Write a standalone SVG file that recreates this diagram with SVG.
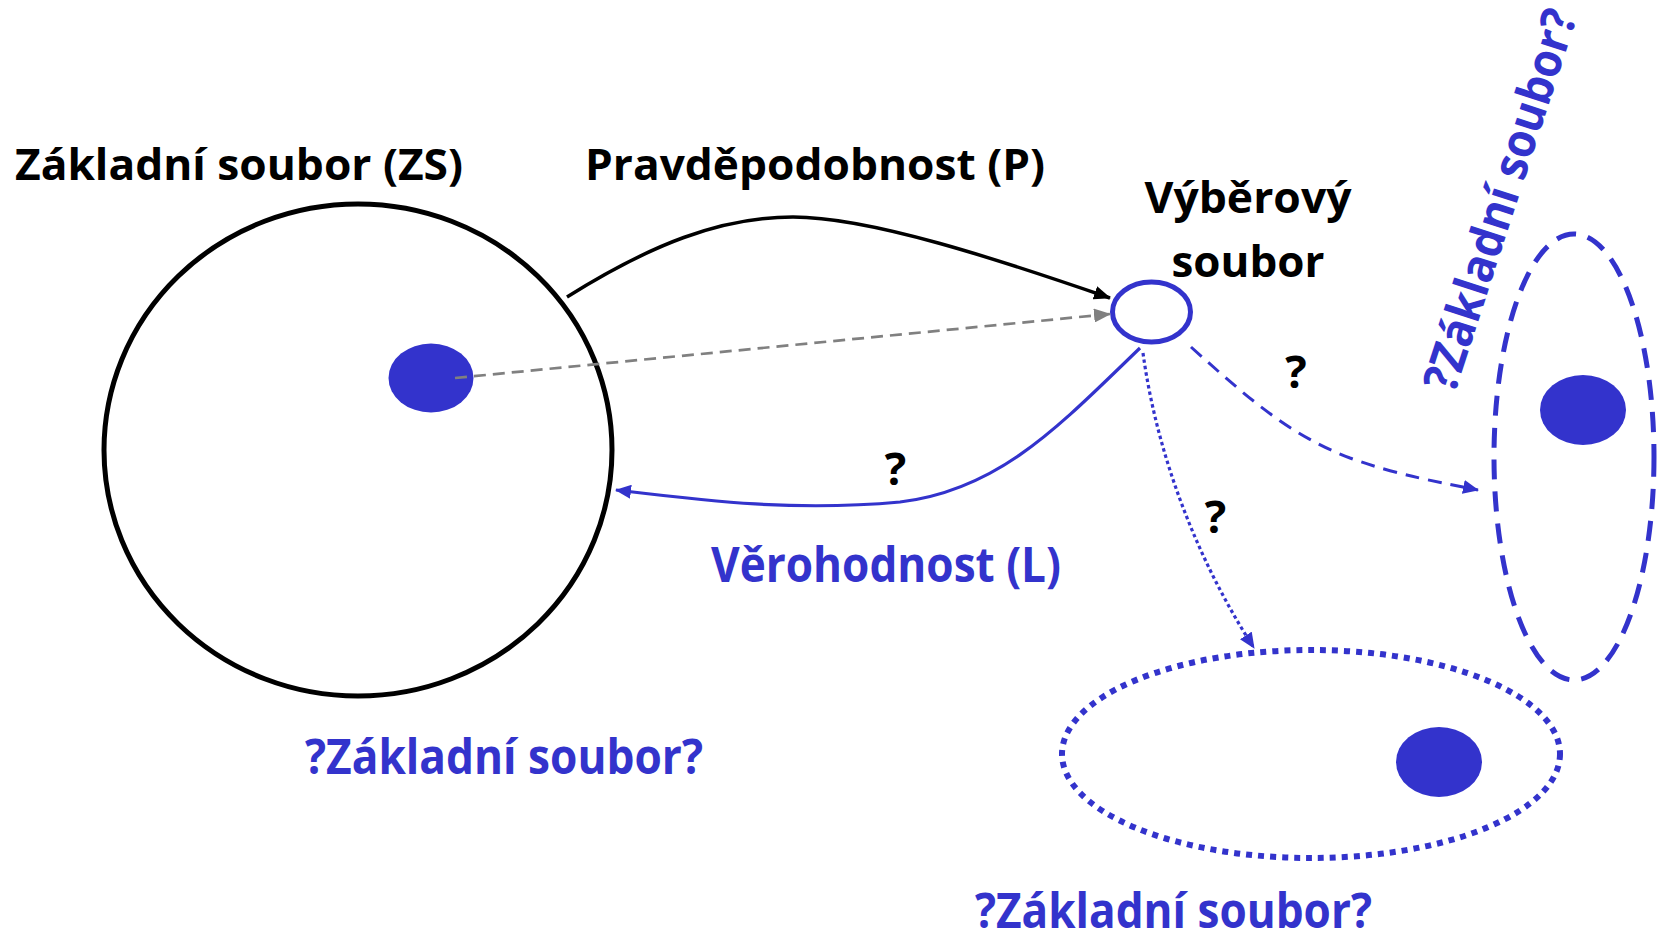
<svg xmlns="http://www.w3.org/2000/svg" width="1659" height="936" viewBox="0 0 1659 936">
<style>
.lbl{font-family:"Open Sans",Lato,"Liberation Sans",sans-serif;font-weight:700}
.blk{fill:#000;font-size:43px}
.blu{fill:#3333CC;font-size:48px}
.q{fill:#000;font-size:45px;text-anchor:middle}
.dot{fill:#3333CC}
</style>
<defs>
<marker id="ahBlack" markerUnits="userSpaceOnUse" markerWidth="17" markerHeight="14" refX="16" refY="7" orient="auto"><path d="M0,0 L17,7 L0,14 z" fill="#000"/></marker>
<marker id="ahGrey" markerUnits="userSpaceOnUse" markerWidth="17" markerHeight="14" refX="16" refY="7" orient="auto"><path d="M0,0 L17,7 L0,14 z" fill="#808080"/></marker>
<marker id="ahBlue" markerUnits="userSpaceOnUse" markerWidth="16" markerHeight="14" refX="15" refY="7" orient="auto"><path d="M0,0 L16,7 L0,14 z" fill="#3333CC"/></marker>
</defs>
<rect width="1659" height="936" fill="#fff"/>

<g id="zs">
<ellipse cx="358" cy="450" rx="254" ry="246" fill="none" stroke="#000" stroke-width="5"/>
<ellipse class="dot" cx="431" cy="378" rx="42.5" ry="34.5"/>
</g>

<g id="vs">
<ellipse cx="1151.5" cy="312" rx="39" ry="30" fill="none" stroke="#3333CC" stroke-width="5"/>
</g>

<g id="zs-dashed">
<ellipse cx="1574" cy="457" rx="80" ry="223" fill="none" stroke="#3333CC" stroke-width="5" stroke-dasharray="20 12"/>
<ellipse class="dot" cx="1583" cy="410" rx="43" ry="35"/>
</g>

<g id="zs-dotted">
<ellipse cx="1311" cy="754" rx="249" ry="104" fill="none" stroke="#3333CC" stroke-width="6" stroke-dasharray="6 6"/>
<ellipse class="dot" cx="1439" cy="762" rx="43" ry="35"/>
</g>

<g id="connectors" fill="none">
<path d="M567,297 C650,245 720,217 793,217 C870,217 1000,260 1110,298" stroke="#000" stroke-width="3.5" marker-end="url(#ahBlack)"/>
<path d="M455,378 L1110,314" stroke="#808080" stroke-width="2.7" stroke-dasharray="12 7" marker-end="url(#ahGrey)"/>
<path d="M1140,348 C1060,425 1000,490 900,502 C790,512 700,500 616,490" stroke="#3333CC" stroke-width="3.2" marker-end="url(#ahBlue)"/>
<path d="M1191,347 C1250,400 1290,435 1350,458 C1400,476 1440,482 1478,490" stroke="#3333CC" stroke-width="3" stroke-dasharray="14 9" marker-end="url(#ahBlue)"/>
<path d="M1143,353 C1157,455 1197,560 1254,648" stroke="#3333CC" stroke-width="3.2" stroke-dasharray="3.5 3" marker-end="url(#ahBlue)"/>
</g>

<g id="labels">
<text class="lbl blk" x="15" y="180" textLength="448" lengthAdjust="spacingAndGlyphs">Základní soubor (ZS)</text>
<text class="lbl blk" x="585" y="180" textLength="460" lengthAdjust="spacingAndGlyphs">Pravděpodobnost (P)</text>
<text class="lbl blk" x="1248" y="213" text-anchor="middle" textLength="207" lengthAdjust="spacingAndGlyphs">Výběrový</text>
<text class="lbl blk" x="1248" y="277" text-anchor="middle" textLength="153" lengthAdjust="spacingAndGlyphs">soubor</text>
<text class="lbl q" x="1296" y="388">?</text>
<text class="lbl q" x="895.5" y="485">?</text>
<text class="lbl q" x="1215.5" y="533">?</text>
<text class="lbl blu" x="711" y="582" textLength="350" lengthAdjust="spacingAndGlyphs">Věrohodnost (L)</text>
<text class="lbl blu" x="305" y="774" textLength="398" lengthAdjust="spacingAndGlyphs">?Základní soubor?</text>
<text class="lbl blu" x="975" y="928" textLength="397" lengthAdjust="spacingAndGlyphs">?Základní soubor?</text>
<text class="lbl blu" transform="translate(1516,205) rotate(-72)" text-anchor="middle" textLength="398" lengthAdjust="spacingAndGlyphs">?Základní soubor?</text>
</g>
</svg>
